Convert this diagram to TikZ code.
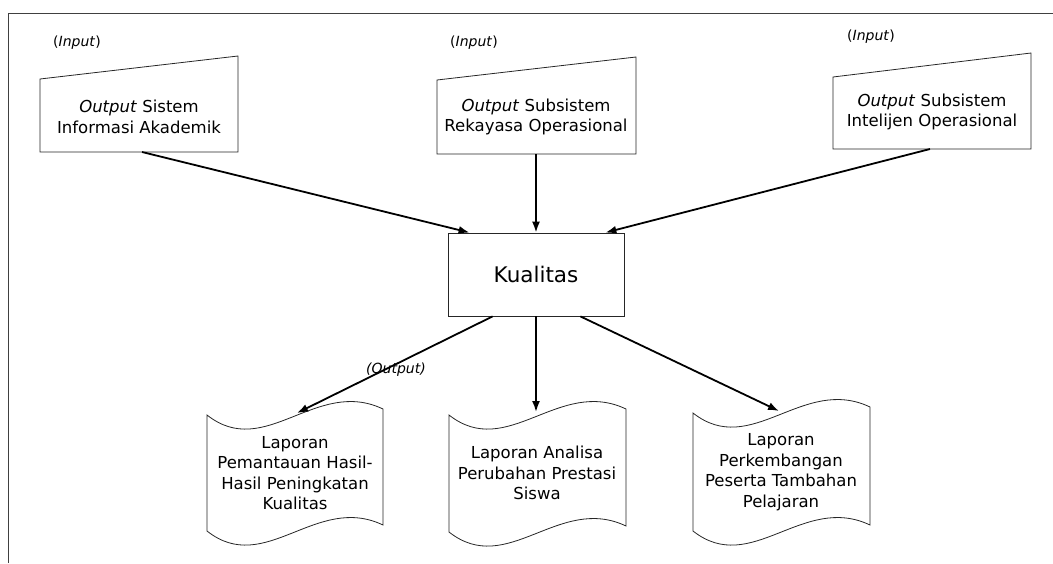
\documentclass[tikz,border=0pt]{standalone}
\usepackage{fontspec}
\setmainfont{DejaVu Sans}
\usetikzlibrary{arrows.meta}
\newcommand{\tapeshape}[4]{%
  \draw[shapeline] (#1,#3) .. controls ({#1+0.33*(#2-#1)},{#3+46}) and ({#1+0.62*(#2-#1)},{#3-38}) .. (#2,{#3-6})
    -- (#2,{#4-6}) .. controls ({#1+0.62*(#2-#1)},{#4-38}) and ({#1+0.33*(#2-#1)},{#4+46}) .. (#1,#4) -- cycle;}
\begin{document}
\begin{tikzpicture}[x=1pt,y=-1pt,
  shapeline/.style={draw=black!85,line width=0.8pt},
  arr/.style={line width=1.8pt,-{Latex[length=11pt,width=8pt]}},
  txt/.style={align=center,font=\fontsize{16.5}{20.5}\selectfont,inner sep=0pt},
  lbl/.style={font=\fontsize{14}{16}\selectfont,inner sep=0pt}]
\useasboundingbox (0,0) rectangle (1053,563);
\draw[black!75,line width=0.8pt] (8,563) -- (8,13) -- (1053,13);

% input boxes (manual input)
\draw[shapeline] (40,79) -- (238,56) -- (238,152) -- (40,152) -- cycle;
\node[txt] (in1) at (139,117) {\textit{Output} Sistem\\Informasi Akademik};
\draw[shapeline] (437,80) -- (636,57) -- (636,154) -- (437,154) -- cycle;
\node[txt] (in2) at (536,117) {\textit{Output} Subsistem\\Rekayasa Operasional};
\draw[shapeline] (833,77) -- (1031,53) -- (1031,149) -- (833,149) -- cycle;
\node[txt] (in3) at (932,112) {\textit{Output} Subsistem\\Intelijen Operasional};

\node[lbl] (l1) at (77,43) {(\textit{Input})};
\node[lbl] (l2) at (474,43) {(\textit{Input})};
\node[lbl] (l3) at (871,37) {(\textit{Input})};

% central process
\node[draw=black!85,line width=0.8pt,minimum width=176pt,minimum height=83pt,inner sep=0pt,
  font=\fontsize{21.5}{24}\selectfont] (k) at (536,274.5) {Kualitas};

% output documents
\tapeshape{207}{383}{415}{531}
\tapeshape{449}{626}{415}{532}
\tapeshape{693}{870}{413}{531}
\node[txt] (d1) at (295,473) {Laporan\\Pemantauan Hasil-\\Hasil Peningkatan\\Kualitas};
\node[txt] (d2) at (537,473) {Laporan Analisa\\Perubahan Prestasi\\Siswa};
\node[txt] (d3) at (781,472) {Laporan\\Perkembangan\\Peserta Tambahan\\Pelajaran};

\coordinate (s1) at (142,152);
\coordinate (s2) at (536,154);
\coordinate (s3) at (930,149);
\coordinate (d1t) at (297,413);
\coordinate (d2t) at (536,412);
\coordinate (d3t) at (779,411);

\draw[arr] (s1) -- ([xshift=22pt]k.north west);
\draw[arr] (s2) -- (k.north);
\draw[arr] (s3) -- ([xshift=-19pt]k.north east);
\draw[arr] ([xshift=45pt]k.south west) -- (d1t);
\draw[arr] (k.south) -- (d2t);
\draw[arr] ([xshift=-44pt]k.south east) -- (d3t);

\node[lbl,font=\fontsize{14}{16}\selectfont\itshape] (ol) at (396,370) {(Output)};
\end{tikzpicture}
\end{document}
